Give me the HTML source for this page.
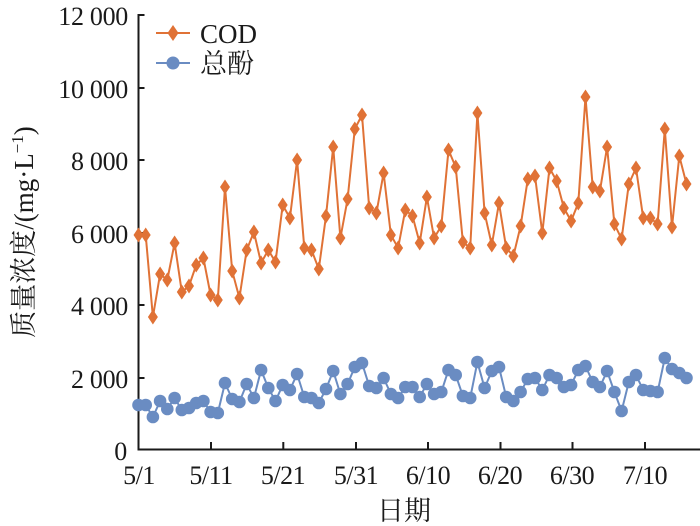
<!DOCTYPE html>
<html><head><meta charset="utf-8"><style>
body{margin:0;background:#fff;}
svg{display:block;font-family:"Liberation Serif","Noto Serif CJK SC",serif;}
</style></head><body>
<svg id="s" width="700" height="526" viewBox="0 0 700 526" xmlns="http://www.w3.org/2000/svg">
<g font-size="26" fill="#1a1a1a" text-anchor="end" letter-spacing="-0.3">
<text x="128" y="25">12 000</text>
<text x="128" y="98">10 000</text>
<text x="128" y="170">8 000</text>
<text x="128" y="243">6 000</text>
<text x="128" y="315">4 000</text>
<text x="128" y="388">2 000</text>
<text x="127" y="460">0</text>
</g>
<g font-size="26" fill="#1a1a1a" text-anchor="middle" letter-spacing="-0.5">
<text x="139" y="484">5/1</text>
<text x="211" y="484">5/11</text>
<text x="283" y="484">5/21</text>
<text x="356" y="484">5/31</text>
<text x="428" y="484">6/10</text>
<text x="500" y="484">6/20</text>
<text x="572" y="484">6/30</text>
<text x="645" y="484">7/10</text>
<text x="404" y="520" font-size="27" letter-spacing="0">日期</text>
</g>
<text transform="translate(33,232) rotate(-90)" font-size="27" text-anchor="middle" fill="#1a1a1a">质量浓度/(mg·L<tspan font-size="17" dy="-10">−1</tspan><tspan dy="10">)</tspan></text>
<g stroke="#1a1a1a" stroke-width="2" fill="none">
<path d="M138.5 14V449.5H700"/>
<path d="M138.5 15h6M138.5 88h6M138.5 160h6M138.5 233h6M138.5 305h6M138.5 378h6"/>
<path d="M211 449v-7M283.3 449v-7M356 449v-7M428 449v-7M500.5 449v-7M572.5 449v-7M645 449v-7"/>
</g>
<g id="plot"></g>
<g>
<line x1="156" y1="33" x2="190" y2="33" stroke="#E07236" stroke-width="2"/>
<path d="M173 25l5.5 8-5.5 8-5.5-8z" fill="#E07236"/>
<text x="200" y="43" font-size="27" fill="#1a1a1a">COD</text>
<line x1="156" y1="63" x2="190" y2="63" stroke="#6A8CC2" stroke-width="2"/>
<circle cx="173" cy="63" r="6.5" fill="#6A8CC2"/>
<text x="200" y="73" font-size="27" fill="#1a1a1a">总酚</text>
</g>
</svg>
<script>
var cod=[235,235,317,274,280,243,292,286,265,258,295,300,187,271,298,250,232,263,250,262,205,218,160,248,250,269,216,147,238,199,129,115,208,213,173,235,248,210,216,243,197,238,226,150,167,242,248,113,213,245,203,248,256,226,179,176,233,168,181,208,221,203,97,187,191,147,224,239,184,168,218,218,224,129,227,156,184];
var ph=[405,405,417,401,409,398,410,408,403,401,412,413,383,399,402,384,398,370,388,401,385,390,374,397,398,403,389,371,394,384,367,363,386,388,378,394,398,387,387,397,384,394,392,370,375,396,398,362,388,371,367,397,401,392,379,378,390,375,378,387,385,370,366,382,387,371,392,411,382,375,390,391,392,358,369,373,378];
var g=document.getElementById('plot'),h='';
function X(i){return 138.5+7.21*i;}
h+='<polyline fill="none" stroke="#6A8CC2" stroke-width="2" points="'+ph.map(function(y,i){return X(i).toFixed(1)+','+y}).join(' ')+'"/>';
ph.forEach(function(y,i){h+='<circle cx="'+X(i).toFixed(1)+'" cy="'+y+'" r="6.3" fill="#6A8CC2"/>';});
h+='<polyline fill="none" stroke="#E07236" stroke-width="2" points="'+cod.map(function(y,i){return X(i).toFixed(1)+','+y}).join(' ')+'"/>';
cod.forEach(function(y,i){var x=X(i);h+='<path d="M'+x.toFixed(1)+' '+(y-7.5)+'l5 7.5-5 7.5-5-7.5z" fill="#E07236"/>';});
g.innerHTML=h;
</script>
</body></html>
